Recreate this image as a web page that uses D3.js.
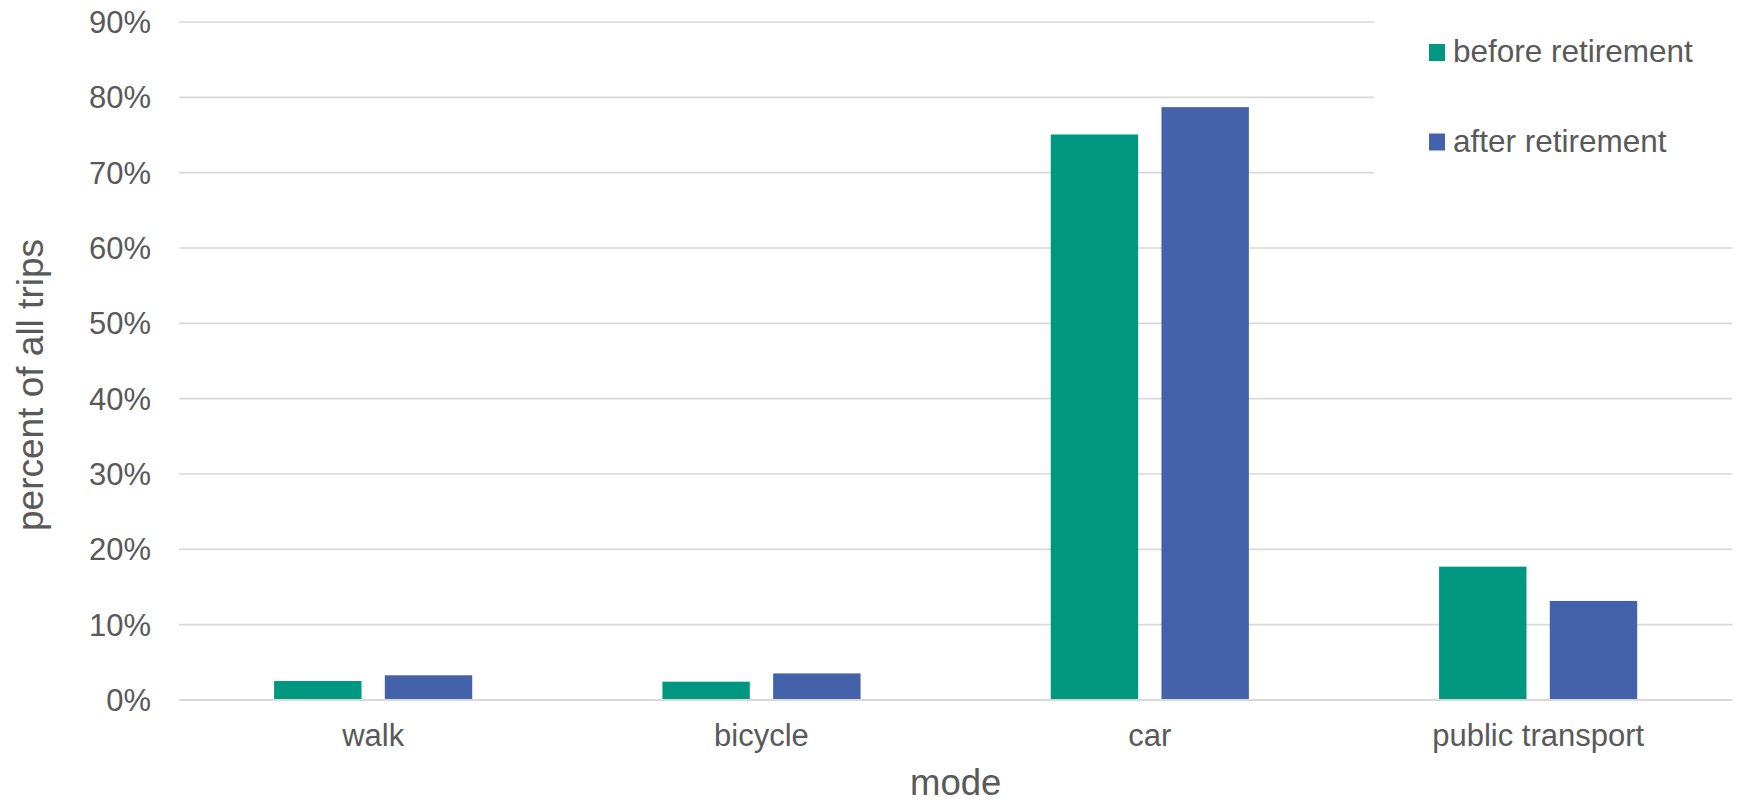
<!DOCTYPE html>
<html>
<head>
<meta charset="utf-8">
<script src="https://cdn.jsdelivr.net/npm/d3@7"></script>
<style>
  html, body { margin: 0; padding: 0; background: #ffffff; }
  svg { display: block; font-family: "Liberation Sans", Arial, sans-serif; }
</style>
</head>
<body>
<svg id="chart" width="1738" height="802"></svg>
<script>
const categories = ["walk", "bicycle", "car", "public transport"];
const seriesNames = ["before retirement", "after retirement"];
const beforeRetirement = [2.52, 2.43, 75.07, 17.7];
const afterRetirement = [3.28, 3.53, 78.7, 13.15];
const yTicks = [0, 10, 20, 30, 40, 50, 60, 70, 80, 90];
const colors = ["#009781", "#4462A9"];

(function () {
const svg = d3.select("#chart");
const plotLeft = 179, plotRight = 1732.3, plotTop = 22, plotBottom = 700;
const textColor = "#595959";

const x0 = d3.scaleBand().domain(categories).range([plotLeft, plotRight]).paddingInner(0).paddingOuter(0);
const x1 = d3.scaleBand().domain(seriesNames).range([0, x0.bandwidth()])
  .paddingInner(0.2105).paddingOuter(0.859);
const y = d3.scaleLinear().domain([0, 90]).range([plotBottom, plotTop]);

// gridlines
svg.append("g").selectAll("line").data(yTicks).join("line")
  .attr("x1", plotLeft).attr("x2", plotRight)
  .attr("y1", d => y(d)).attr("y2", d => y(d))
  .attr("stroke", "#d9d9d9").attr("stroke-width", d => d === 0 ? 2 : 1.6);

// y tick labels
svg.append("g").selectAll("text").data(yTicks).join("text")
  .attr("x", 151).attr("y", d => y(d) + 11)
  .attr("text-anchor", "end").attr("font-size", 31).attr("fill", textColor)
  .text(d => d + "%");

// bars
const data = categories.map((c, i) => ({ cat: c, vals: [beforeRetirement[i], afterRetirement[i]] }));
const groups = svg.append("g").selectAll("g").data(data).join("g")
  .attr("transform", d => `translate(${x0(d.cat)},0)`);
groups.selectAll("rect").data(d => d.vals.map((v, j) => ({ s: seriesNames[j], v, j })))
  .join("rect")
  .attr("x", d => x1(d.s)).attr("width", x1.bandwidth())
  .attr("y", d => y(d.v)).attr("height", d => y(0) - y(d.v))
  .attr("fill", d => colors[d.j]);

// baseline over bars
svg.append("line").attr("x1", plotLeft).attr("x2", plotRight)
  .attr("y1", y(0)).attr("y2", y(0)).attr("stroke", "#d9d9d9").attr("stroke-width", 2);

// category labels
svg.append("g").selectAll("text").data(categories).join("text")
  .attr("x", d => x0(d) + x0.bandwidth() / 2).attr("y", 746)
  .attr("text-anchor", "middle").attr("font-size", 31).attr("fill", textColor)
  .text(d => d);

// axis titles
svg.append("text").attr("x", (plotLeft + plotRight) / 2).attr("y", 795)
  .attr("text-anchor", "middle").attr("font-size", 36.5).attr("fill", textColor).text("mode");
svg.append("text").attr("transform", "translate(43,385) rotate(-90)")
  .attr("text-anchor", "middle").attr("font-size", 37).attr("fill", textColor).text("percent of all trips");

// legend (with white background covering gridlines)
svg.append("rect").attr("x", 1374).attr("y", 0).attr("width", 364).attr("height", 200).attr("fill", "#ffffff");
const legend = svg.append("g").selectAll("g").data(seriesNames).join("g")
  .attr("transform", (d, i) => `translate(1429,${44 + i * 89.5})`);
legend.append("rect").attr("width", 16).attr("height", 17).attr("fill", (d, i) => colors[i]);
legend.append("text").attr("x", 24).attr("y", 18).attr("font-size", 31.5).attr("fill", textColor).text(d => d);
})();
</script>
</body>
</html>
